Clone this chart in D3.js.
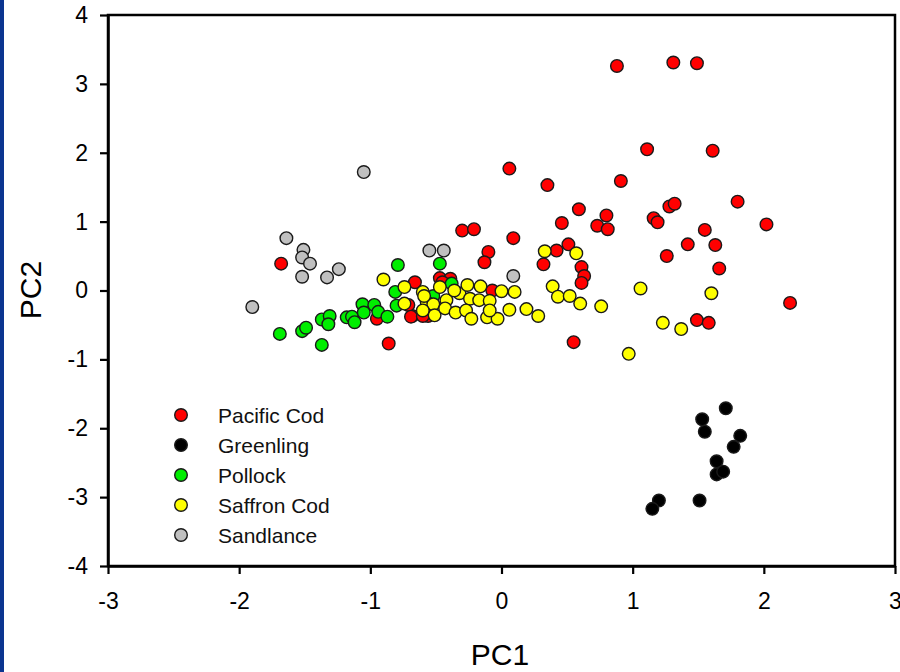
<!DOCTYPE html>
<html><head><meta charset="utf-8">
<script src="https://cdn.jsdelivr.net/npm/d3@7"></script>
<style>
html,body{margin:0;padding:0;background:#fff;}
svg{display:block;font-family:"Liberation Sans",Arial,sans-serif;}
</style></head>
<body>
<svg id="chart" width="900" height="672"></svg>
<script>
const seriesNames = ["Pacific Cod","Greenling","Pollock","Saffron Cod","Sandlance"];
const seriesColors = ["#ff0000","#000000","#00ee00","#ffff00","#c0c0c0"];
const xTicks = [-3,-2,-1,0,1,2,3];
const yTicks = [-4,-3,-2,-1,0,1,2,3,4];

const pacificCod = [
  [0.88,3.26],[1.31,3.31],[1.49,3.30],[0.06,1.77],[1.11,2.05],[1.61,2.03],[0.35,1.53],[0.91,1.59],
  [0.59,1.18],[1.80,1.29],[1.28,1.22],[1.32,1.26],[2.02,0.96],[0.46,0.98],[0.73,0.94],[0.80,1.09],
  [0.81,0.89],[1.16,1.05],[1.19,0.99],[1.55,0.88],[1.42,0.67],[1.63,0.66],[1.26,0.50],[1.66,0.32],
  [2.20,-0.18],[1.49,-0.43],[1.58,-0.47],[0.32,0.38],[0.42,0.58],[0.51,0.67],[0.61,0.34],[0.63,0.21],
  [0.61,0.11],[0.55,-0.75],[-0.30,0.87],[-0.21,0.89],[0.09,0.76],[-0.10,0.56],[-0.13,0.41],
  [-0.66,0.12],[-0.47,0.18],[-0.39,0.17],[-0.68,-0.37],[-0.56,-0.37],[-0.07,0.00],[-0.71,-0.21],
  [-1.68,0.39],[-0.86,-0.77],[-0.95,-0.41],[-0.69,-0.38],[-0.60,-0.37],[-0.45,0.12]
];
const greenling = [
  [1.71,-1.71],[1.53,-1.87],[1.55,-2.05],[1.82,-2.11],[1.77,-2.27],[1.64,-2.48],[1.64,-2.67],
  [1.69,-2.63],[1.51,-3.05],[1.20,-3.05],[1.15,-3.17]
];
const pollock = [
  [-0.79,0.37],[-1.69,-0.63],[-1.52,-0.59],[-1.49,-0.54],[-1.37,-0.79],[-1.37,-0.42],[-1.31,-0.37],
  [-1.32,-0.49],[-1.18,-0.39],[-1.14,-0.38],[-1.12,-0.46],[-1.06,-0.20],[-1.05,-0.32],[-0.97,-0.21],
  [-0.94,-0.31],[-0.87,-0.38],[-0.81,-0.02],[-0.80,-0.22],[-0.47,0.39],[-0.52,-0.08],[-0.38,0.10]
];
const saffronCod = [
  [-0.90,0.16],[-0.74,0.05],[-0.74,-0.19],[-0.60,-0.02],[-0.57,-0.17],[-0.52,-0.20],[-0.51,-0.36],
  [-0.47,0.05],[-0.59,-0.08],[-0.42,-0.14],[-0.43,-0.26],[-0.35,-0.32],[-0.32,-0.04],[-0.26,0.08],
  [-0.24,-0.12],[-0.27,-0.29],[-0.23,-0.41],[-0.16,0.06],[-0.17,-0.14],[-0.09,-0.15],[-0.11,-0.39],
  [-0.03,-0.41],[0.00,-0.01],[-0.09,-0.29],[0.06,-0.28],[0.10,-0.02],[0.19,-0.27],[0.28,-0.37],
  [0.33,0.57],[0.57,0.54],[0.39,0.06],[0.43,-0.09],[0.52,-0.08],[0.60,-0.19],[0.76,-0.23],
  [1.06,0.03],[1.60,-0.04],[1.23,-0.47],[1.37,-0.56],[0.97,-0.92],[-0.60,-0.29],[-0.36,0.00]
];
const sandlance = [
  [-1.05,1.72],[-1.64,0.76],[-1.51,0.59],[-1.52,0.48],[-1.46,0.39],[-1.52,0.20],[-1.33,0.19],
  [-1.24,0.31],[-1.90,-0.24],[-0.55,0.58],[-0.44,0.58],[0.09,0.21]
];
const seriesData = [pacificCod, greenling, pollock, saffronCod, sandlance];

(function(){
const svg = d3.select("#chart");
const pL = 108, pR = 895, pT = 15, pB = 566;
const x = d3.scaleLinear().domain([-3,3]).range([pL,pR]);
const y = d3.scaleLinear().domain([-4,4]).range([pB,pT]);

// blue left strip
svg.append("rect").attr("x",0).attr("y",0).attr("width",4).attr("height",672).attr("fill","#0b3590");

// frame
svg.append("rect").attr("x",pL).attr("y",pT).attr("width",pR-pL).attr("height",pB-pT)
  .attr("fill","none").attr("stroke","#000").attr("stroke-width",2.5);

const fs = 23;
const xAxis = svg.append("g").attr("transform",`translate(0,${pB})`)
  .call(d3.axisBottom(x).tickValues(xTicks).tickSize(8).tickSizeOuter(0).tickPadding(19).tickFormat(d3.format("d")));
const yAxis = svg.append("g").attr("transform",`translate(${pL},0)`)
  .call(d3.axisLeft(y).tickValues(yTicks).tickSize(8).tickSizeOuter(0).tickPadding(12).tickFormat(d3.format("d")));
[xAxis,yAxis].forEach(g=>{
  g.select(".domain").attr("stroke","#000").attr("stroke-width",2.5);
  g.selectAll(".tick line").attr("stroke","#000").attr("stroke-width",2.2);
  g.selectAll(".tick text").attr("fill","#000").style("font-size",fs+"px")
   .style("font-family","'Liberation Sans',Arial,sans-serif");
});
svg.selectAll(".tick text").text(function(){return this.textContent.replace("\u2212","-");});

// axis titles
svg.append("text").attr("x",500).attr("y",665).attr("text-anchor","middle")
  .style("font-size","30px").attr("fill","#000").text("PC1");
svg.append("text").attr("transform","translate(41,290) rotate(-90)").attr("text-anchor","middle")
  .style("font-size","30px").attr("fill","#000").text("PC2");

// points
const r = 6.3;
seriesData.forEach((pts,i)=>{
  svg.append("g").selectAll("circle").data(pts).join("circle")
    .attr("cx",d=>x(d[0])).attr("cy",d=>y(d[1])).attr("r",r)
    .attr("fill",seriesColors[i]).attr("stroke","#1a1a1a").attr("stroke-width",1.4);
});

// legend
const leg = svg.append("g");
seriesNames.forEach((n,i)=>{
  const yy = 415 + i*30;
  leg.append("circle").attr("cx",181).attr("cy",yy).attr("r",r)
    .attr("fill",seriesColors[i]).attr("stroke","#1a1a1a").attr("stroke-width",1.4);
  leg.append("text").attr("x",218).attr("y",yy).attr("dy","0.36em")
    .style("font-size","21px").attr("fill","#111").text(n);
});
})();
</script>
</body></html>
